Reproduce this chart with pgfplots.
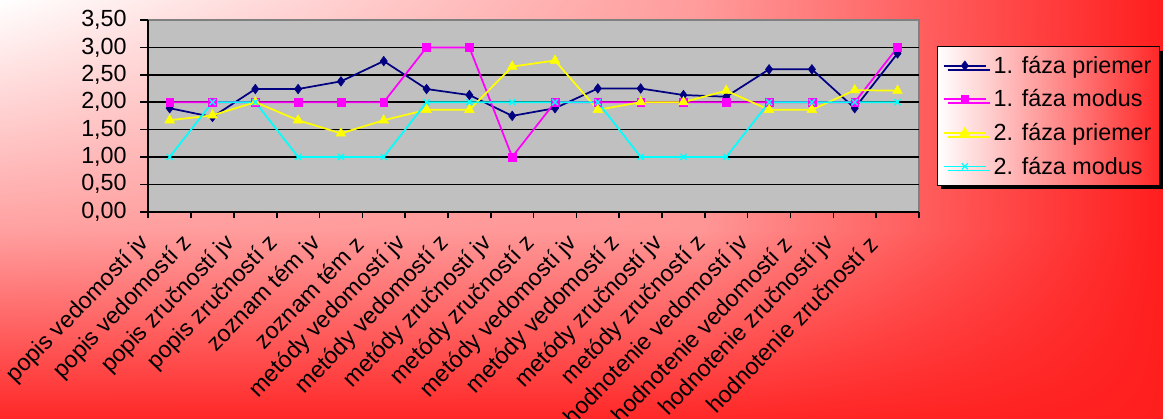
\documentclass[border=0pt]{standalone}
\usepackage{fontspec}
\setmainfont{Liberation Sans}
\usepackage{pgfplots}
\pgfplotsset{compat=1.18}
\usetikzlibrary{shadows,shadings}
\definecolor{sNavy}{RGB}{0,0,128}
\definecolor{sMag}{RGB}{255,0,255}
\definecolor{sYel}{RGB}{255,255,0}
\definecolor{sCyan}{RGB}{0,255,255}
\definecolor{plotbg}{RGB}{192,192,192}
\definecolor{bW}{RGB}{255,255,255}
\definecolor{bA}{RGB}{255,155,155}
\definecolor{bR}{RGB}{255,30,30}
\definecolor{bB}{RGB}{255,160,160}
\definecolor{bC}{RGB}{255,150,150}
\definecolor{bD}{RGB}{255,40,40}
\definecolor{legR}{RGB}{255,40,40}
\begin{document}
\begin{tikzpicture}
\useasboundingbox (0,0) rectangle (872.25pt,313.5pt);
\shade[upper left=bW, upper right=bA, lower left=bB, lower right=bC] (0pt,141pt) rectangle (525pt,313.5pt);
\shade[upper left=bA, upper right=bR, lower left=bC, lower right=bR] (525pt,141pt) rectangle (872.25pt,313.5pt);
\shade[upper left=bB, upper right=bC, lower left=bD, lower right=bD] (0pt,0pt) rectangle (525pt,141pt);
\shade[upper left=bC, upper right=bR, lower left=bD, lower right=bR] (525pt,0pt) rectangle (872.25pt,141pt);
\begin{axis}[
  at={(111.2pt,154.7pt)}, anchor=south west,
  scale only axis, width=578pt, height=143.8pt,
  xmin=-0.5, xmax=17.5, ymin=0, ymax=3.5,
  axis x line*=bottom, axis y line*=left,
  axis line style={black, line width=1.2pt, -},
  axis background/.style={fill=plotbg, draw=gray, line width=1pt},
  xtick={0,...,17},
  xticklabels={{popis vedomostí jv},{popis vedomostí z},{popis zručností jv},{popis zručností z},{zoznam tém jv},{zoznam tém z},{metódy vedomostí jv},{metódy vedomostí z},{metódy zručností jv},{metódy zručností z},{metódy vedomostí jv},{metódy vedomostí z},{metódy zručností jv},{metódy zručností z},{hodnotenie vedomostí jv},{hodnotenie vedomostí z},{hodnotenie zručností jv},{hodnotenie zručností z}},
  major x tick style={draw=none},
  minor xtick={-0.5,0.5,...,17.5},
  minor x tick style={black, line width=1.2pt},
  minor tick length=5pt,
  tick align=outside,
  ytick={0,0.5,...,3.5},
  major y tick style={black, line width=1.2pt},
  major tick length=6pt,
  extra y ticks={0.5,1,...,3},
  extra y tick labels={},
  extra y tick style={grid=major, major grid style={black, line width=1.2pt}},
  yticklabel style={font=\fontsize{17.5}{20}\selectfont, inner sep=0pt, xshift=-10pt},
  xticklabel style={font=\fontsize{17.5}{20}\selectfont, xshift=-18pt, yshift=-15pt, rotate=46, anchor=east, inner sep=0pt},
  /pgf/number format/.cd, fixed, fixed zerofill, precision=2, use comma, assume math mode=true,
  /pgfplots/.cd,
  clip=false,
  legend style={at={(1.023,0.864)}, anchor=north west, draw=black, line width=1pt,
    left color=white, right color=legR,
    drop shadow={shadow xshift=3pt, shadow yshift=-3pt, fill=black, opacity=1},
    font=\fontsize{17.5}{20}\selectfont, text=black, inner xsep=4pt, inner ysep=5pt,
    row sep=6.8pt, cells={anchor=west}},
  legend image code/.code={\draw[mark repeat=2,mark phase=2] plot coordinates {(0pt,0pt) (16pt,0pt) (32pt,0pt)};\path (35pt,0pt);},
]
\addplot[sNavy, line width=1.3pt, mark=diamond*, mark size=3.6pt, mark options={line width=0.4pt}] coordinates {
(0,1.89) (1,1.73) (2,2.24) (3,2.24) (4,2.38) (5,2.75) (6,2.24) (7,2.13) (8,1.75) (9,1.89)
(10,2.25) (11,2.25) (12,2.13) (13,2.10) (14,2.60) (15,2.60) (16,1.89) (17,2.89)};
\addlegendentry{1. fáza priemer}
\addplot[sMag, line width=1.3pt, mark=square*, mark size=2.9pt, mark options={line width=0.4pt}] coordinates {
(0,2) (1,2) (2,2) (3,2) (4,2) (5,2) (6,3) (7,3) (8,1) (9,2)
(10,2) (11,2) (12,2) (13,2) (14,2) (15,2) (16,2) (17,3)};
\addlegendentry{1. fáza modus}
\addplot[sYel, line width=1.3pt, mark=triangle*, mark size=4.2pt, mark options={line width=0.4pt}] coordinates {
(0,1.67) (1,1.76) (2,2.00) (3,1.67) (4,1.43) (5,1.67) (6,1.86) (7,1.86) (8,2.65) (9,2.76)
(10,1.86) (11,2.00) (12,2.00) (13,2.21) (14,1.86) (15,1.86) (16,2.22) (17,2.21)};
\addlegendentry{2. fáza priemer}
\addplot[sCyan, line width=1.3pt, mark=x, mark size=3.2pt, mark options={line width=1pt}] coordinates {
(0,1) (1,2) (2,2) (3,1) (4,1) (5,1) (6,2) (7,2) (8,2) (9,2)
(10,2) (11,1) (12,1) (13,1) (14,2) (15,2) (16,2) (17,2)};
\addlegendentry{2. fáza modus}
\end{axis}
\end{tikzpicture}
\end{document}
